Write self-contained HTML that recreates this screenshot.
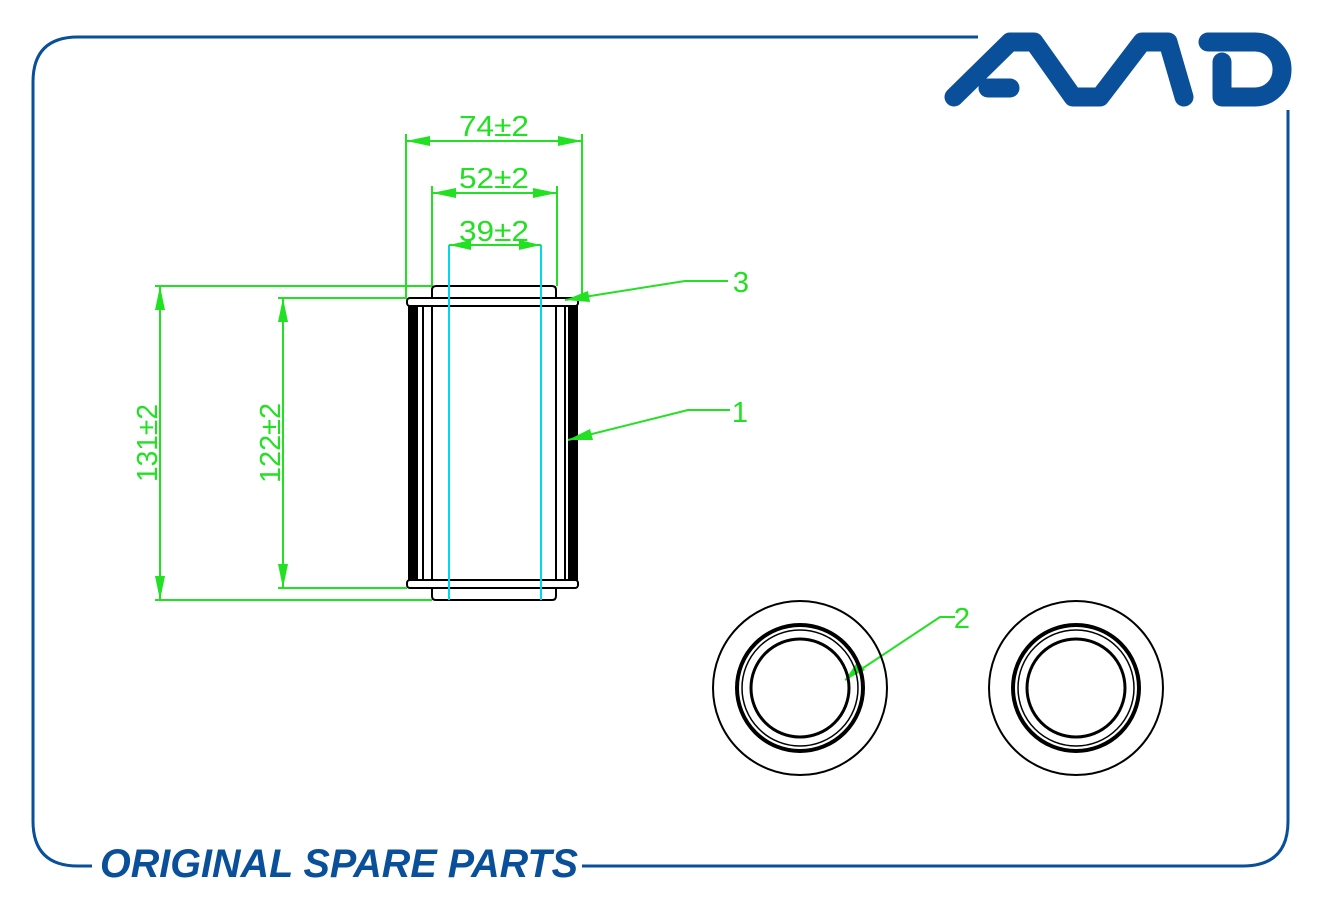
<!DOCTYPE html>
<html><head><meta charset="utf-8"><style>
html,body{margin:0;padding:0;background:#fff;}
svg{display:block;}
</style></head><body>
<svg width="1321" height="900" viewBox="0 0 1321 900" xmlns="http://www.w3.org/2000/svg">
<!-- frame -->
<path d="M978,37 L78,37 Q33,37 33,82 L33,821 Q33,866 78,866 L92,866" fill="none" stroke="#0a4f9a" stroke-width="3"/>
<path d="M582,866 L1243,866 Q1288,866 1288,821 L1288,110" fill="none" stroke="#0a4f9a" stroke-width="3"/>
<!-- logo -->
<g fill="none" stroke="#0a4f9a" stroke-width="19" stroke-linejoin="round" stroke-linecap="round">
<polyline points="954,97 1010,42 1034,42 1073,97 1100,97 1142,42 1168,42 1184,97"/>
<line x1="988" y1="88" x2="1010" y2="88"/>
<path d="M1222,96 L1222,62 M1208,42 L1255,42 A27,27 0 0 1 1282,69 L1282,70 A27,27 0 0 1 1255,97 L1222,97"/>
</g>
<text x="100" y="877" font-family="Liberation Sans,sans-serif" font-weight="bold" font-style="italic" font-size="40" fill="#0a4f9a" textLength="478" lengthAdjust="spacingAndGlyphs">ORIGINAL SPARE PARTS</text>

<!-- cylinder -->
<g stroke="#000" stroke-width="2" fill="none">
<path d="M432,298 L432,290 Q432,286 436,286 L552,286 Q556,286 556,290 L556,298"/>
<rect x="407" y="298" width="171" height="8" rx="3"/>
<rect x="407" y="580" width="171" height="8" rx="3"/>
<path d="M432,588 L432,596 Q432,600 436,600 L552,600 Q556,600 556,596 L556,588"/>
<line x1="423" y1="306" x2="423" y2="580"/>
<line x1="432" y1="306" x2="432" y2="580"/>
<line x1="556" y1="306" x2="556" y2="580"/>
<line x1="565" y1="306" x2="565" y2="580"/>
</g>
<rect x="408" y="306" width="10" height="274" fill="#000"/>
<rect x="568" y="306" width="10" height="274" fill="#000"/>
<line x1="449" y1="245" x2="449" y2="600" stroke="#00d8f0" stroke-width="2"/>
<line x1="541" y1="245" x2="541" y2="600" stroke="#00d8f0" stroke-width="2"/>

<!-- dims -->
<g stroke="#22e022" stroke-width="2" fill="none">
<line x1="406" y1="134" x2="406" y2="298"/><line x1="582" y1="134" x2="582" y2="298"/>
<line x1="406" y1="141" x2="582" y2="141"/>
<line x1="432" y1="186" x2="432" y2="286"/><line x1="557" y1="186" x2="557" y2="286"/>
<line x1="432" y1="193" x2="557" y2="193"/>
<line x1="449" y1="245" x2="541" y2="245"/>
<line x1="155" y1="286" x2="432" y2="286"/><line x1="155" y1="600" x2="432" y2="600"/>
<line x1="160" y1="286" x2="160" y2="600"/>
<line x1="278" y1="298" x2="407" y2="298"/><line x1="278" y1="588" x2="407" y2="588"/>
<line x1="283" y1="298" x2="283" y2="588"/>
<polyline points="565,300 685,281 728,281"/>
<polyline points="568,440 688,410 730,410"/>
<polyline points="845,680 940,617 955,617"/>
</g>
<g fill="#22e022">
<polygon points="406,141 430,136 430,146"/><polygon points="582,141 558,136 558,146"/>
<polygon points="432,193 456,188 456,198"/><polygon points="557,193 533,188 533,198"/>
<polygon points="449,245 471,240 471,250"/><polygon points="541,245 519,240 519,250"/>
<polygon points="160,286 155,310 165,310"/><polygon points="160,600 155,576 165,576"/>
<polygon points="283,298 278,322 288,322"/><polygon points="283,588 278,564 288,564"/>
<polygon points="565,300 588,291 590,302"/>
<polygon points="568,440 590,429 593,440"/>
<polygon points="845,680 858,661 865,670"/>
</g>
<g font-family="Liberation Sans,sans-serif" font-size="29" fill="#22e022" text-anchor="middle">
<text x="494" y="136" textLength="70" lengthAdjust="spacingAndGlyphs">74±2</text>
<text x="494" y="188" textLength="70" lengthAdjust="spacingAndGlyphs">52±2</text>
<text x="494" y="241" textLength="70" lengthAdjust="spacingAndGlyphs">39±2</text>
<text transform="translate(157,443) rotate(-90)" textLength="78" lengthAdjust="spacingAndGlyphs">131±2</text>
<text transform="translate(280,443) rotate(-90)" textLength="80" lengthAdjust="spacingAndGlyphs">122±2</text>
<text x="741" y="292">3</text>
<text x="740" y="422">1</text>
<text x="962" y="628">2</text>
</g>

<!-- circles -->
<g stroke="#000" fill="none">
<circle cx="800" cy="688" r="87" stroke-width="2"/>
<circle cx="800" cy="688" r="63" stroke-width="4"/>
<circle cx="800" cy="688" r="58" stroke-width="1.5"/>
<circle cx="800" cy="688" r="49" stroke-width="3"/>
<circle cx="1076" cy="688" r="87" stroke-width="2"/>
<circle cx="1076" cy="688" r="63" stroke-width="4"/>
<circle cx="1076" cy="688" r="58" stroke-width="1.5"/>
<circle cx="1076" cy="688" r="49" stroke-width="3"/>
</g>
</svg>
</body></html>
